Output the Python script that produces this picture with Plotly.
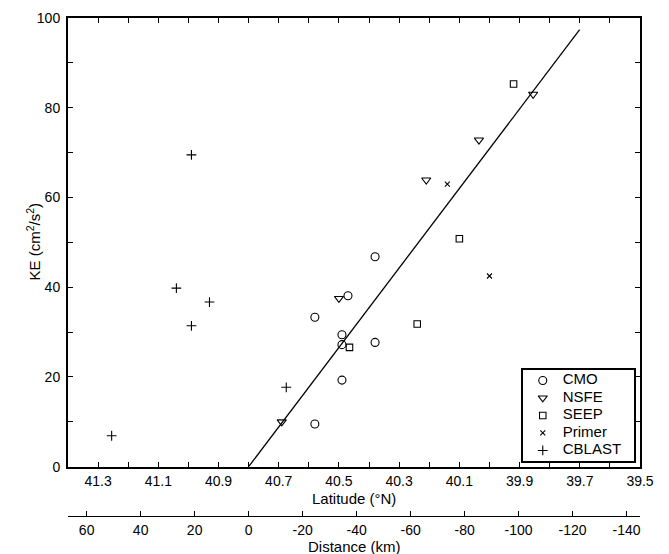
import plotly.graph_objects as go

# Kinetic energy observations by program (latitude in degrees N, KE in cm^2/s^2)
cmo_lat = [40.38, 40.47, 40.58, 40.49, 40.49, 40.38, 40.49, 40.58]
cmo_ke = [46.8, 38.1, 33.3, 29.4, 27.2, 27.7, 19.3, 9.5]

nsfe_lat = [40.50, 40.69, 40.21, 40.035, 39.855]
nsfe_ke = [37.5, 10.0, 63.9, 72.8, 83.0]

seep_lat = [40.465, 40.24, 40.10, 39.92]
seep_ke = [26.6, 31.8, 50.8, 85.3]

primer_lat = [40.14, 40.00]
primer_ke = [63.0, 42.5]

cblast_lat = [40.99, 41.04, 40.93, 40.99, 41.255, 40.675]
cblast_ke = [69.5, 39.8, 36.7, 31.4, 6.9, 17.7]

# Linear fit of KE against along-shelf distance (km)
fit_dist = [0.0, -122.6]
fit_ke = [0.0, 97.4]

# Axis definitions
lat_range = [41.4, 39.5]
lat_ticks = [41.3, 41.1, 40.9, 40.7, 40.5, 40.3, 40.1, 39.9, 39.7, 39.5]
lat_origin = 40.8          # latitude of distance = 0
km_per_deg = 111.5
dist_ticks = [60, 40, 20, 0, -20, -40, -60, -80, -100, -120, -140]
ke_ticks = [0, 20, 40, 60, 80, 100]

FONT = "Liberation Sans"
BLACK = "black"

series = [
    ("CMO", cmo_lat, cmo_ke, "circle-open", 8),
    ("NSFE", nsfe_lat, nsfe_ke, "triangle-down-open", 8),
    ("SEEP", seep_lat, seep_ke, "square-open", 6.5),
    ("Primer", primer_lat, primer_ke, "x-thin-open", 5),
    ("CBLAST", cblast_lat, cblast_ke, "cross-thin-open", 7),
]

fig = go.Figure()

for name, xs, ys, sym, size in series:
    fig.add_trace(go.Scatter(
        x=xs, y=ys, mode="markers", name=name, showlegend=False,
        marker=dict(symbol=sym, size=size, color=BLACK,
                    line=dict(color=BLACK, width=1.1)),
        xaxis="x", yaxis="y",
    ))

fig.add_trace(go.Scatter(
    x=fit_dist, y=fit_ke, mode="lines", showlegend=False,
    line=dict(color=BLACK, width=1.3),
    xaxis="x2", yaxis="y",
))

# Legend key drawn in its own small panel (row index counts down the box)
n = len(series)
for i, (name, xs, ys, sym, size) in enumerate(series):
    row = n - 1 - i + 0.5
    fig.add_trace(go.Scatter(
        x=[0.18], y=[row], mode="markers", showlegend=False,
        marker=dict(symbol=sym, size=size, color=BLACK,
                    line=dict(color=BLACK, width=1.1)),
        xaxis="x3", yaxis="y3", hoverinfo="skip",
    ))
    fig.add_trace(go.Scatter(
        x=[0.36], y=[row], mode="text", text=[name],
        textposition="middle right", showlegend=False,
        textfont=dict(size=15, color=BLACK),
        xaxis="x3", yaxis="y3", hoverinfo="skip",
    ))

dist_range = [(lat_range[0] - lat_origin) * km_per_deg,
              (lat_range[1] - lat_origin) * km_per_deg]

axis_common = dict(ticks="inside", ticklen=5, tickwidth=1, tickcolor=BLACK,
                   showgrid=False, zeroline=False, automargin=False,
                   tickfont=dict(size=14))

fig.update_layout(
    width=669, height=554,
    margin=dict(l=68, r=29, t=18, b=38),
    paper_bgcolor="white", plot_bgcolor="white",
    font=dict(family=FONT, size=14, color=BLACK),
    showlegend=False,
    xaxis=dict(
        range=lat_range, anchor="y", domain=[0, 1],
        tickvals=lat_ticks, ticktext=[f"{v:.1f}" for v in lat_ticks],
        minor=dict(dtick=0.1, tick0=41.3, ticks="inside", ticklen=5,
                   tickwidth=1, tickcolor=BLACK),
        showline=True, linewidth=2, linecolor=BLACK, mirror="ticks",
        ticklabelstandoff=1, **axis_common,
    ),
    xaxis2=dict(
        range=dist_range, overlaying="x", anchor="free", position=0,
        side="bottom",
        tickvals=dist_ticks, ticktext=[str(v) for v in dist_ticks],
        showline=True, linewidth=1.2, linecolor=BLACK,
        ticklabelstandoff=1, **axis_common,
    ),
    yaxis=dict(
        range=[0, 100], domain=[0.099, 1], anchor="x",
        tickvals=ke_ticks,
        minor=dict(dtick=10, ticks="inside", ticklen=5, tickwidth=1,
                   tickcolor=BLACK),
        showline=True, linewidth=2, linecolor=BLACK, mirror="ticks",
        ticklabelstandoff=3, **axis_common,
    ),
    xaxis3=dict(domain=[0.795, 0.9895], range=[0, 1], anchor="y3",
                showline=True, linewidth=1.5, linecolor=BLACK, mirror=True,
                showticklabels=False, ticks="", showgrid=False,
                zeroline=False, fixedrange=True),
    yaxis3=dict(domain=[0.1105, 0.2933], range=[-0.1, 5.1], anchor="x3",
                showline=True, linewidth=1.5, linecolor=BLACK, mirror=True,
                showticklabels=False, ticks="", showgrid=False,
                zeroline=False, fixedrange=True),
    annotations=[
        dict(text="KE (cm<sup>2</sup>/s<sup>2</sup>)", textangle=-90,
             xref="paper", yref="paper", x=-0.060, y=0.5505,
             xanchor="center", yanchor="middle", showarrow=False,
             font=dict(size=15)),
        dict(text="Latitude (°N)", xref="paper", yref="paper",
             x=0.5, y=0.0352, xanchor="center", yanchor="middle",
             showarrow=False, font=dict(size=15)),
        dict(text="Distance (km)", xref="paper", yref="paper",
             x=0.5, y=-0.0613, xanchor="center", yanchor="middle",
             showarrow=False, font=dict(size=15)),
    ],
)

fig.write_html("out.html")
